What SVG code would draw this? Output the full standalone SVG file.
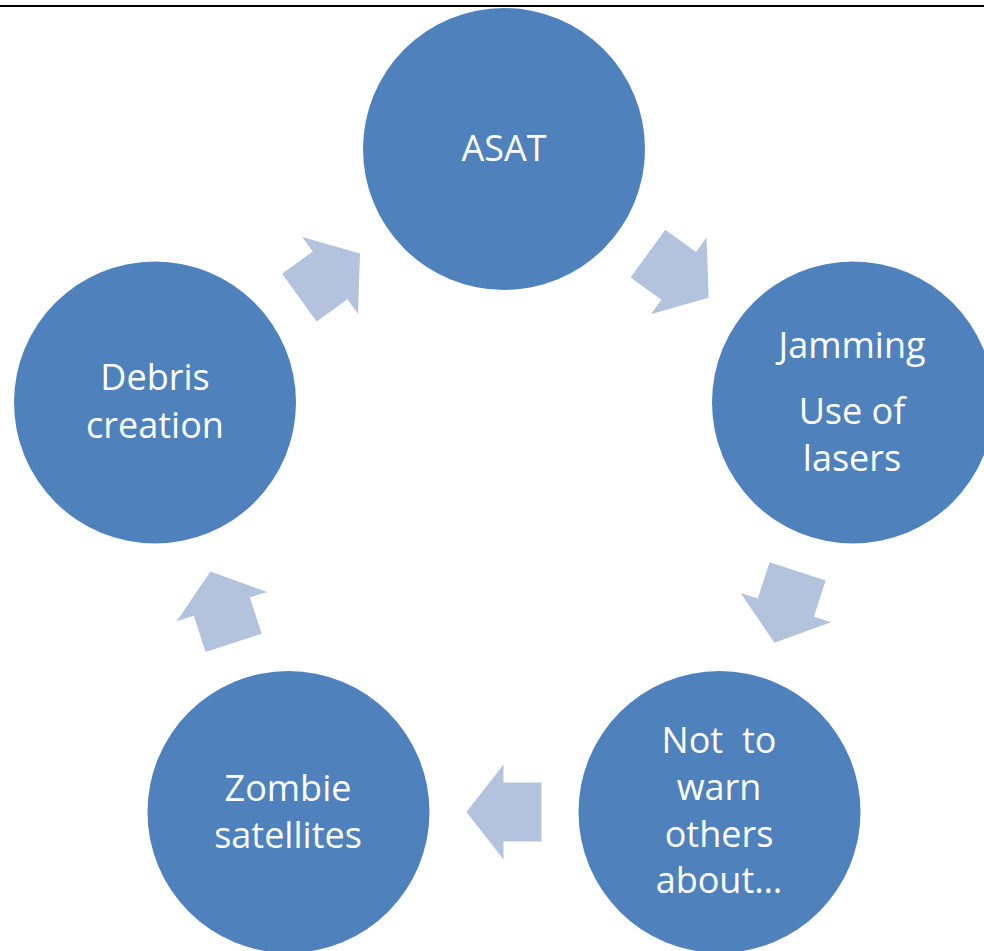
<svg xmlns="http://www.w3.org/2000/svg" width="984" height="951" viewBox="0 0 984 951">
<defs>
<style>
.node{fill:#4F81BD}
.lbl{fill:#FFFFFF;font-family:"Open Sans","Noto Sans",sans-serif;font-size:36px;text-anchor:middle}
.arr{fill:#B3C3DE}
</style>
<path id="arrow" d="M37.5,0 L0.5,-47.5 L0.5,-29.5 L-37.5,-29.5 L-37.5,29.5 L0.5,29.5 L0.5,47.5 Z"/>
</defs>
<rect width="984" height="951" fill="#FFFFFF"/>
<line x1="0" y1="6" x2="984" y2="6" stroke="#000000" stroke-width="2"/>
<g id="connectors" class="arr">
<use href="#arrow" transform="translate(678.3,275.6) rotate(36)"/>
<use href="#arrow" transform="translate(786,607.1) rotate(108)"/>
<use href="#arrow" transform="translate(504,812) rotate(180)"/>
<use href="#arrow" transform="translate(222,607.1) rotate(252)"/>
<use href="#arrow" transform="translate(329.7,275.6) rotate(324)"/>
</g>
<g id="asat">
<circle class="node" cx="504" cy="149" r="141"/>
<text class="lbl" x="504" y="161">ASAT</text>
</g>
<g id="jamming">
<circle class="node" cx="853" cy="402.5" r="141"/>
<text class="lbl" x="852" y="358">Jamming</text>
<text class="lbl" x="852" y="424">Use of</text>
<text class="lbl" x="852" y="471">lasers</text>
</g>
<g id="not-to-warn">
<circle class="node" cx="719.5" cy="812" r="141"/>
<text class="lbl" x="719" y="753">Not&#160; to</text>
<text class="lbl" x="719" y="800">warn</text>
<text class="lbl" x="719" y="847">others</text>
<text class="lbl" x="719" y="893">about…</text>
</g>
<g id="zombie">
<circle class="node" cx="288.5" cy="812" r="141"/>
<text class="lbl" x="288" y="801">Zombie</text>
<text class="lbl" x="288" y="848">satellites</text>
</g>
<g id="debris">
<circle class="node" cx="155" cy="402.5" r="141"/>
<text class="lbl" x="155" y="390">Debris</text>
<text class="lbl" x="155" y="438">creation</text>
</g>
</svg>
